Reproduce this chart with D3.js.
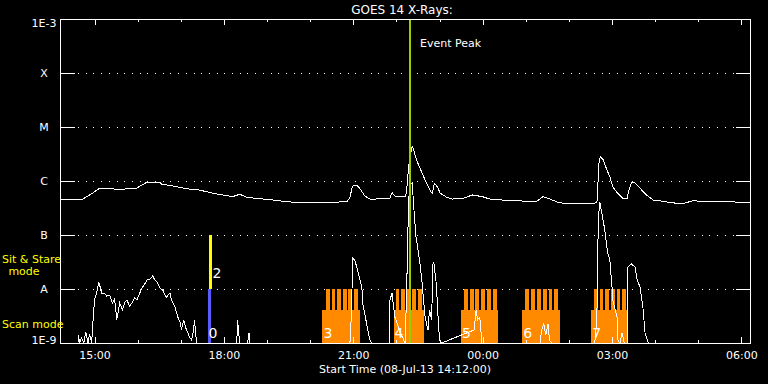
<!DOCTYPE html>
<html><head><meta charset="utf-8">
<script src="https://cdn.jsdelivr.net/npm/d3@7"></script>
<style>
html,body{margin:0;padding:0;background:#000;}
svg{display:block;}
text{font-family:"DejaVu Sans",sans-serif;}
</style></head>
<body>
<script>
// ---------- data ----------
const startTime = "14:12";
const endTime = "06:12";
const title = "GOES 14 X-Rays:";
const xAxisTitle = "Start Time (08-Jul-13 14:12:00)";
const levelValues = [1e-9, 1e-8, 1e-7, 1e-6, 1e-5, 1e-4, 1e-3];
const levelLabels = ["1E-9", "A", "B", "C", "M", "X", "1E-3"];
const majorTicks = ["15:00", "18:00", "21:00", "00:00", "03:00", "06:00"];
const minorTicks = ["16:00","17:00","19:00","20:00","22:00","23:00","01:00","02:00","04:00","05:00"];

// long channel (1-8 A), W/m^2
const longTimes = ["14:12","14:30","14:44","14:49","14:57","15:07","15:35","15:59","16:03","16:13","16:31","16:33","16:49","17:08","17:26","17:45","18:04","18:12","18:22","18:32","18:50","19:08","19:27","19:46","20:23","20:51","20:55","20:59","21:05","21:09","21:16","21:26","21:37","21:51","21:54","21:58","22:13","22:15","22:17","22:22","22:24","22:28","22:34","22:41","22:48","22:50","22:53","22:57","23:01","23:11","23:18","23:33","23:46","00:00","00:10","00:42","01:15","01:24","01:34","01:47","02:15","02:39","02:42","02:44","02:48","02:52","02:57","03:01","03:08","03:15","03:21","03:23","03:27","03:32","03:39","03:48","03:57","04:07","04:21","04:39","04:52","05:16","05:40","06:12"];
const longFlux = [4.45e-7,4.45e-7,4.64e-7,5.12e-7,5.92e-7,7.33e-7,7.02e-7,7.33e-7,8.07e-7,9.46e-7,9.46e-7,8.8e-7,8.07e-7,7.2e-7,6.8e-7,5.92e-7,5.35e-7,5.12e-7,5.68e-7,4.99e-7,4.7e-7,4.45e-7,4.14e-7,3.97e-7,4.0e-7,4.14e-7,4.79e-7,8.07e-7,8.43e-7,7.33e-7,5.27e-7,4.45e-7,4.8e-7,4.8e-7,6.07e-7,5.27e-7,5.27e-7,8.4e-7,1.9e-6,4.5e-6,3.75e-6,2.45e-6,1.6e-6,9.7e-7,6.34e-7,6.0e-7,9.05e-7,7.83e-7,5.92e-7,4.91e-7,4.63e-7,4.8e-7,5.51e-7,5.12e-7,4.63e-7,4.3e-7,4.2e-7,5.12e-7,4.6e-7,3.92e-7,3.85e-7,3.92e-7,2.27e-6,2.82e-6,2.45e-6,1.72e-6,1.2e-6,7.83e-7,5.92e-7,4.8e-7,4.64e-7,6.34e-7,9.3e-7,9.3e-7,7.33e-7,5.51e-7,4.45e-7,4.3e-7,3.97e-7,3.8e-7,4.3e-7,4.14e-7,4.14e-7,3.97e-7];

// short channel (0.5-4 A), W/m^2
const shortTimes = ["14:12","14:37","14:38","14:39","14:42","14:45","14:48","14:51","14:53","14:56","14:58","15:00","15:03","15:06","15:10","15:14","15:17","15:21","15:25","15:28","15:31","15:35","15:39","15:42","15:45","15:49","15:52","15:56","15:59","16:03","16:06","16:10","16:13","16:17","16:21","16:24","16:28","16:31","16:35","16:38","16:40","16:45","16:47","16:52","16:56","16:59","17:01","17:04","17:07","17:10","17:12","17:15","17:18","17:19","17:22","18:18","18:19","18:22","18:33","18:35","18:36","20:55","20:56","20:58","20:59","21:02","21:06","21:12","21:13","21:19","21:23","21:26","21:50","21:51","21:54","21:55","21:58","22:02","22:05","22:09","22:12","22:14","22:17","22:19","22:22","22:24","22:27","22:30","22:33","22:35","22:40","22:44","22:46","22:49","22:51","22:52","22:55","22:56","22:58","23:00","23:03","23:48","23:51","23:53","23:56","23:59","01:20","01:22","01:25","01:28","01:31","01:33","01:36","02:36","02:39","02:40","02:42","02:43","02:45","02:50","02:54","02:57","03:00","03:01","03:07","03:08","03:11","03:14","03:17","03:21","03:22","03:27","03:32","03:35","03:39","03:43","03:46","03:49","03:51","06:12"];
const shortFlux = [1e-9,1e-9,1.4e-9,1e-9,1.24e-9,1e-9,1.6e-9,1e-9,1.47e-9,1e-9,2.67e-9,6.25e-9,8.43e-9,1.35e-8,8.4e-9,8.4e-9,7.4e-9,7.7e-9,5.5e-9,6.5e-9,2.7e-9,5.5e-9,4.1e-9,5.7e-9,6.25e-9,4.8e-9,5.5e-9,6.8e-9,6.25e-9,8.4e-9,1.04e-8,1.24e-8,1.47e-8,1.53e-8,1.74e-8,1.47e-8,1.29e-8,1.04e-8,9.6e-9,7.7e-9,7.1e-9,8.4e-9,6.25e-9,4.6e-9,3.0e-9,2.45e-9,1.74e-9,2.7e-9,1.9e-9,1.53e-9,1.29e-9,1.14e-9,1.74e-9,2.7e-9,1e-9,1e-9,2.7e-9,1e-9,1e-9,1.53e-9,1e-9,1e-9,1.14e-9,6.25e-9,3.75e-8,3.45e-8,2.25e-8,1.09e-8,5.5e-9,2.15e-9,1.14e-9,1e-9,1e-9,6.25e-9,8.4e-9,6.25e-9,3.0e-9,2.15e-9,1.53e-9,1.24e-9,1e-9,6.25e-9,4.45e-7,8.43e-7,9.2e-7,3.6e-7,1.0e-7,5.3e-8,2.8e-8,1.67e-8,3.0e-9,1.74e-9,4.1e-9,2.7e-9,3.0e-8,3.15e-8,1.47e-8,9.6e-9,3.0e-9,1.14e-9,1e-9,1.74e-9,4.1e-9,2.7e-9,3.0e-9,1e-9,1e-9,1.74e-9,2.25e-9,1.4e-9,2.25e-9,1.14e-9,1e-9,1e-9,2.7e-9,5.3e-8,2.9e-7,4.14e-7,2.9e-7,1.24e-7,4.6e-8,3.45e-8,1.09e-8,6.25e-9,3.0e-9,1.14e-9,1e-9,1.53e-9,1e-9,1e-9,2.55e-8,2.9e-8,2.55e-8,1.47e-8,1.09e-8,4.6e-9,1.53e-9,1.14e-9,1e-9,1e-9];

// observing blocks (scan mode rasters)
const blockLabels = ["3", "4", "5", "6", "7"];
const blockStarts = ["20:17", "21:56", "23:30", "00:55", "02:31"];
const blockTeethStarts = ["20:22", "21:59", "23:34", "00:59", "02:35"];
const blockEnds = ["21:09", "22:38", "00:22", "01:48", "03:22"];
const blockTeeth = [6, 5, 6, 6, 6];

// mode change (sit & stare), event peak
const modeChangeTime = "17:40";
const modeLabels = ["0", "2"];
const eventPeakTime = "22:19";
const eventPeakLabel = "Event Peak";

// ---------- helpers ----------
function parseT(s) {
  const [h, m] = s.split(":").map(Number);
  const day = h < 14 ? 9 : 8;
  return new Date(Date.UTC(2013, 6, day, h, m));
}

const W = 768, H = 384;
const L = 60, R = 750, T = 19, B = 343;

const svg = d3.select("body").append("svg").attr("width", W).attr("height", H)
  .style("background", "#000");

const x = d3.scaleUtc().domain([parseT(startTime), parseT(endTime)]).range([L, R]);
const y = d3.scaleLog().domain([1e-9, 1e-3]).range([B, T]).clamp(true);

const orange = "#ff8a00";

// grid dotted lines
svg.append("g").selectAll("line").data(levelValues.slice(1, 6)).join("line")
  .attr("x1", L + 18).attr("x2", R - 14)
  .attr("y1", d => Math.round(y(d)) + 0.5).attr("y2", d => Math.round(y(d)) + 0.5)
  .attr("stroke", "#fff").attr("stroke-width", 1)
  .attr("shape-rendering", "crispEdges")
  .attr("stroke-dasharray", "1 6.7");

// orange blocks
const blocks = blockLabels.map((l, i) => ({
  label: l, s: parseT(blockStarts[i]), ts: parseT(blockTeethStarts[i]),
  e: parseT(blockEnds[i]), n: blockTeeth[i]
}));
const gB = svg.append("g").attr("shape-rendering", "crispEdges");
const blockTop = 4.1e-9, teethTop = 1e-8;
blocks.forEach(b => {
  gB.append("rect").attr("x", x(b.s)).attr("width", x(b.e) - x(b.s))
    .attr("y", y(blockTop)).attr("height", y(1e-9) - y(blockTop)).attr("fill", orange);
  const p = (x(b.e) - x(b.ts)) / b.n;
  for (let k = 0; k < b.n; k++) {
    gB.append("rect").attr("x", x(b.ts) + k * p).attr("width", p * 0.67)
      .attr("y", y(teethTop)).attr("height", y(blockTop) - y(teethTop) + 0.5).attr("fill", orange);
  }
});

// mode bars
const xm = x(parseT(modeChangeTime));
svg.append("rect").attr("x", xm - 1.5).attr("width", 3).attr("y", y(1e-8)).attr("height", y(1e-9) - y(1e-8)).attr("fill", "#5a5aff").attr("shape-rendering", "crispEdges");
svg.append("rect").attr("x", xm - 0.5).attr("width", 3).attr("y", y(1e-7)).attr("height", y(1e-8) - y(1e-7)).attr("fill", "#ffff00").attr("shape-rendering", "crispEdges");

// curves
svg.append("clipPath").attr("id", "c").append("rect").attr("x", L).attr("y", T).attr("width", R - L).attr("height", B - T);
const line = d3.line().x(d => x(d.t)).y(d => y(d.v));
const longData = longTimes.map((t, i) => ({ t: parseT(t), v: longFlux[i] }));
const shortData = shortTimes.map((t, i) => ({ t: parseT(t), v: shortFlux[i] }));
const gL = svg.append("g").attr("clip-path", "url(#c)");
gL.append("path").datum(longData).attr("d", line).attr("fill", "none").attr("stroke", "#fff").attr("stroke-width", 1).attr("shape-rendering", "crispEdges");
gL.append("path").datum(shortData).attr("d", line).attr("fill", "none").attr("stroke", "#fff").attr("stroke-width", 1).attr("shape-rendering", "crispEdges");

// event peak line
const xe = x(parseT(eventPeakTime));
svg.append("rect").attr("x", Math.round(xe) - 1).attr("width", 2).attr("y", T).attr("height", B - T).attr("fill", "#9acd00");
svg.append("text").attr("x", xe + 10).attr("y", 47).attr("fill", "#fff").attr("font-size", 11).text(eventPeakLabel);

// block labels
svg.append("g").selectAll("text").data(blocks).join("text")
  .attr("x", d => x(d.s) + 5.5).attr("y", 338).attr("text-anchor", "middle")
  .attr("fill", "#fff").attr("font-size", 14).text(d => d.label);
svg.append("text").attr("x", xm + 3.5).attr("y", 338).attr("text-anchor", "middle").attr("fill", "#fff").attr("font-size", 14).text(modeLabels[0]);
svg.append("text").attr("x", xm + 7.5).attr("y", 278).attr("text-anchor", "middle").attr("fill", "#fff").attr("font-size", 14).text(modeLabels[1]);

// axes
const fontSize = 11;
const majorDates = majorTicks.map(parseT), minorDates = minorTicks.map(parseT);
function styleAxis(g) {
  g.attr("color", "#fff").attr("font-family", "DejaVu Sans").attr("font-size", fontSize)
   .attr("shape-rendering", "crispEdges");
}
// top
svg.append("g").attr("transform", `translate(0,${T})`).call(d3.axisBottom(x).tickValues(majorDates).tickSize(6).tickSizeOuter(0).tickFormat(""))
  .call(styleAxis);
svg.append("g").attr("transform", `translate(0,${T})`).call(d3.axisBottom(x).tickValues(minorDates).tickSize(3).tickSizeOuter(0).tickFormat(""))
  .call(styleAxis).call(g => g.select(".domain").remove());
// bottom
svg.append("g").attr("transform", `translate(0,${B})`).call(d3.axisBottom(x).tickValues(majorDates).tickSize(-6).tickSizeOuter(0).tickPadding(8).tickFormat((d, i) => majorTicks[i]))
  .call(styleAxis);
svg.append("g").attr("transform", `translate(0,${B})`).call(d3.axisBottom(x).tickValues(minorDates).tickSize(-3).tickSizeOuter(0).tickFormat(""))
  .call(styleAxis).call(g => g.select(".domain").remove());
// left
svg.append("g").attr("transform", `translate(${L},0)`).call(d3.axisLeft(y).tickValues(levelValues).tickSize(-15).tickSizeOuter(0).tickFormat((d, i) => levelLabels[i]))
  .call(styleAxis).call(g => g.selectAll("text").attr("x", -16).attr("text-anchor", "middle")
    .attr("dy", (d, i) => i === 0 ? "0.0em" : (i === levelValues.length - 1 ? "0.68em" : "0.32em")));
// right
svg.append("g").attr("transform", `translate(${R},0)`).call(d3.axisRight(y).tickValues(levelValues).tickSize(-14).tickSizeOuter(0).tickFormat(""))
  .call(styleAxis);

// titles
svg.append("text").attr("x", 402).attr("y", 14).attr("text-anchor", "middle").attr("fill", "#fff").attr("font-size", 12).text(title);
svg.append("text").attr("x", 405).attr("y", 373).attr("text-anchor", "middle").attr("fill", "#fff").attr("font-size", 11).text(xAxisTitle);

// mode legend
const yel = "#ffff00";
svg.append("text").attr("x", 2).attr("y", 263).attr("fill", yel).attr("font-size", 11).text("Sit & Stare");
svg.append("text").attr("x", 24).attr("y", 275).attr("text-anchor", "middle").attr("fill", yel).attr("font-size", 11).text("mode");
svg.append("text").attr("x", 2).attr("y", 328).attr("fill", yel).attr("font-size", 11).text("Scan mode");
</script>
</body></html>
